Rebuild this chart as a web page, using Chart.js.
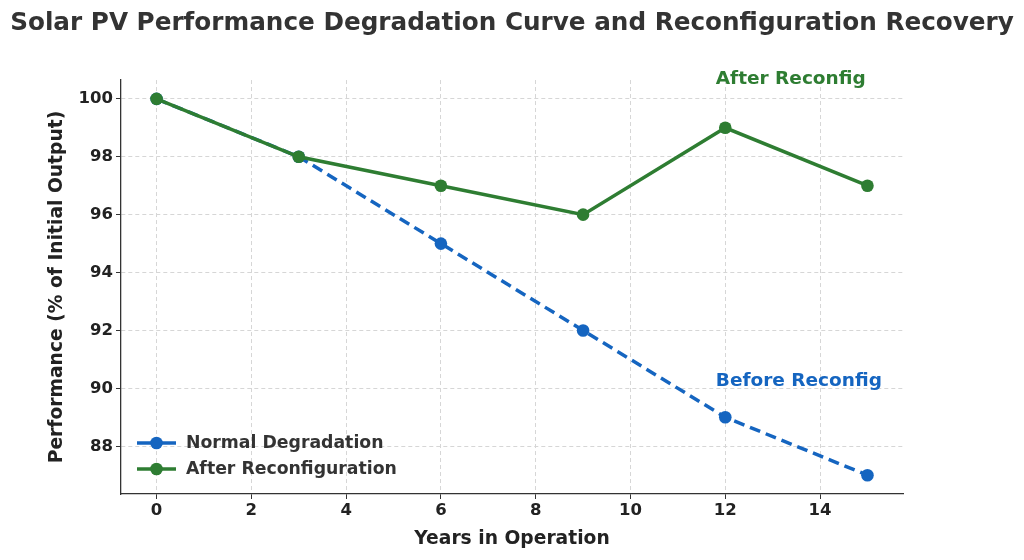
<!DOCTYPE html>
<html>
<head>
<meta charset="utf-8">
<script src="https://cdn.jsdelivr.net/npm/chart.js@4/dist/chart.umd.min.js"></script>
<style>
  html, body { margin: 0; padding: 0; background: #fff; }
  #wrap { width: 1024px; height: 560px; }
</style>
</head>
<body>
<div id="wrap"><canvas id="pvChart" width="1024" height="560"></canvas></div>
<script>
// data
const years = [0, 3, 6, 9, 12, 15];
const normalDegradation = [100, 98, 95, 92, 89, 87];
const afterReconfiguration = [100, 98, 97, 96, 99, 97];
const xTicks = [0, 2, 4, 6, 8, 10, 12, 14];
const yTicks = [88, 90, 92, 94, 96, 98, 100];

// text notes placed in data units
const noteLabels = ['After Reconfig', 'Before Reconfig'];
const noteX = [11.8, 11.8];
const noteY = [100.69, 90.24];
const noteColors = ['#2e7d32', '#1565c0'];

const BLUE = '#1565c0';
const GREEN = '#2e7d32';
const FONT = "'DejaVu Sans', sans-serif";

function toPoints(xs, ys) {
    return xs.map((x, i) => ({ x: x, y: ys[i] }));
}

// notes and legend drawn on top of the plot
const overlayPlugin = {
    id: 'overlay',
    afterDatasetsDraw(chart) {
        const ctx = chart.ctx;
        const xs = chart.scales.x;
        const ys = chart.scales.y;
        ctx.save();
        ctx.font = 'bold 18.5px ' + FONT;
        ctx.textBaseline = 'middle';
        ctx.textAlign = 'left';
        noteLabels.forEach((txt, i) => {
            ctx.fillStyle = noteColors[i];
            ctx.fillText(txt, xs.getPixelForValue(noteX[i]), ys.getPixelForValue(noteY[i]));
        });

        // legend in the lower left corner of the plot
        const area = chart.chartArea;
        const left = area.left + 16;
        let rowY = area.bottom - 51;
        ctx.font = 'bold 17.3px ' + FONT;
        chart.data.datasets.forEach(ds => {
            ctx.strokeStyle = ds.borderColor;
            ctx.lineWidth = 3.5;
            ctx.setLineDash([]);
            ctx.beginPath();
            ctx.moveTo(left, rowY);
            ctx.lineTo(left + 39, rowY);
            ctx.stroke();
            ctx.fillStyle = ds.backgroundColor;
            ctx.beginPath();
            ctx.arc(left + 19.5, rowY, 6.3, 0, Math.PI * 2);
            ctx.fill();
            ctx.fillStyle = '#333';
            ctx.fillText(ds.label, left + 49, rowY + 1);
            rowY += 26;
        });
        ctx.restore();
    }
};

const ctx = document.getElementById('pvChart').getContext('2d');

new Chart(ctx, {
    type: 'line',
    data: {
        datasets: [{
            label: 'Normal Degradation',
            data: toPoints(years, normalDegradation),
            borderColor: BLUE,
            backgroundColor: BLUE,
            borderWidth: 3.5,
            borderDash: [11, 6],
            pointRadius: 6.3,
            pointHoverRadius: 6.3,
            pointBorderWidth: 0,
            tension: 0,
            order: 2
        }, {
            label: 'After Reconfiguration',
            data: toPoints(years, afterReconfiguration),
            borderColor: GREEN,
            backgroundColor: GREEN,
            borderWidth: 3.5,
            pointRadius: 6.3,
            pointHoverRadius: 6.3,
            pointBorderWidth: 0,
            tension: 0,
            order: 1
        }]
    },
    options: {
        responsive: false,
        animation: false,
        devicePixelRatio: 1,
        layout: { padding: 0 },
        plugins: {
            legend: { display: false },
            tooltip: { enabled: false },
            title: {
                display: true,
                text: 'Solar PV Performance Degradation Curve and Reconfiguration Recovery',
                color: '#333',
                font: { family: FONT, size: 24.7, weight: 'bold' },
                padding: { top: 9, bottom: 41.4 }
            }
        },
        scales: {
            x: {
                type: 'linear',
                min: -0.75,
                max: 15.75,
                afterFit(scale) { scale.height = 66; },
                afterBuildTicks(scale) { scale.ticks = xTicks.map(v => ({ value: v })); },
                ticks: {
                    color: '#222',
                    font: { family: FONT, size: 16.5, weight: 'bold' },
                    padding: 2
                },
                grid: {
                    color: '#d6d6d6',
                    tickColor: '#333',
                    tickLength: 5,
                    tickBorderDash: []
                },
                border: { display: true, color: '#333', width: 1.3, dash: [4, 3] },
                title: {
                    display: true,
                    text: 'Years in Operation',
                    color: '#222',
                    font: { family: FONT, size: 18.7, weight: 'bold' },
                    padding: { top: 8, bottom: 9.6 }
                }
            },
            y: {
                min: 86.35,
                max: 100.65,
                afterFit(scale) { scale.width = 121; },
                afterBuildTicks(scale) { scale.ticks = yTicks.map(v => ({ value: v })); },
                ticks: {
                    color: '#222',
                    font: { family: FONT, size: 16.5, weight: 'bold' },
                    padding: 3
                },
                grid: {
                    color: '#d6d6d6',
                    tickColor: '#333',
                    tickLength: 5,
                    tickBorderDash: []
                },
                border: { display: true, color: '#333', width: 1.3, dash: [4, 3] },
                title: {
                    display: true,
                    text: 'Performance (% of Initial Output)',
                    color: '#222',
                    font: { family: FONT, size: 18.7, weight: 'bold' },
                    padding: { top: 45.6, bottom: 0 }
                }
            },
            // empty right-hand axis that only reserves the right margin
            yRight: {
                position: 'right',
                min: 86.35,
                max: 100.65,
                afterFit(scale) { scale.width = 121; },
                ticks: { display: false },
                grid: { display: false, drawOnChartArea: false },
                border: { display: false }
            }
        }
    },
    plugins: [overlayPlugin]
});
</script>
</body>
</html>
